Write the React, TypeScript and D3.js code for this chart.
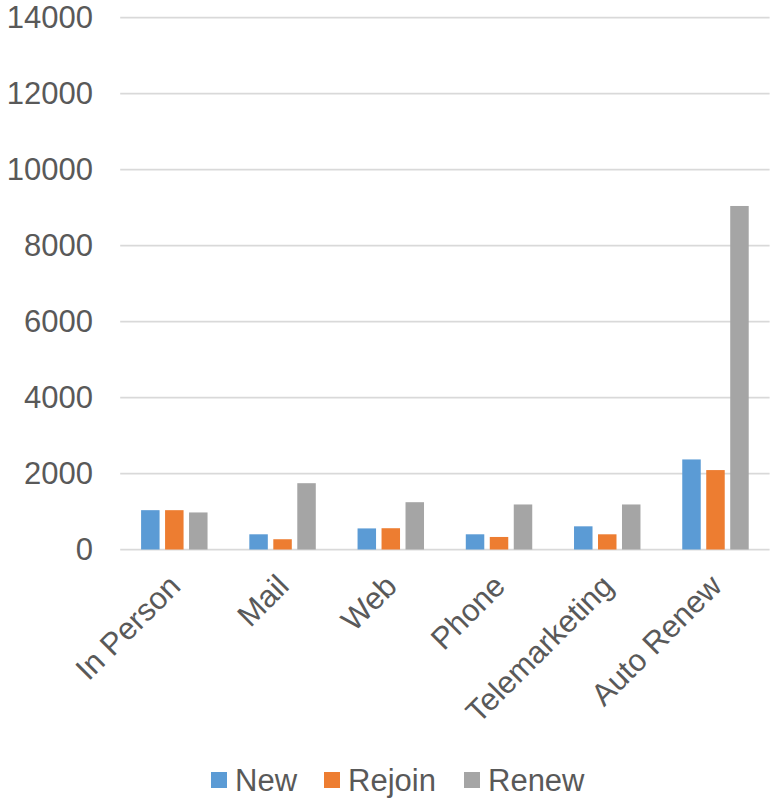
import React from "react";
import * as d3 from "d3";

const categories = ["In Person", "Mail", "Web", "Phone", "Telemarketing", "Auto Renew"];
const seriesNames = ["New", "Rejoin", "Renew"];
const newValues = [1035, 400, 555, 400, 610, 2370];
const rejoinValues = [1035, 270, 560, 330, 400, 2090];
const renewValues = [975, 1745, 1245, 1185, 1185, 9040];
const yTicks = [0, 2000, 4000, 6000, 8000, 10000, 12000, 14000];
const seriesColors = ["#5B9BD5", "#ED7D31", "#A5A5A5"];

const W = 770;
const H = 800;
const FONT = "'Liberation Sans', Arial, sans-serif";
const TEXT = "#595959";
const FS = 31;

export default function App() {
  const values = [newValues, rejoinValues, renewValues];

  const x = d3.scaleBand<string>().domain(categories).range([120.2, 769.6]).padding(0);
  const band = x.bandwidth();
  const groupW = band * 0.614;
  const x1 = d3
    .scaleBand<string>()
    .domain(seriesNames)
    .range([-groupW / 2, groupW / 2])
    .paddingInner(0.229)
    .paddingOuter(0);
  const y = d3.scaleLinear().domain([0, 14000]).range([549.5, 17.5]);

  const legendItems = [
    { name: "New", sq: 211 },
    { name: "Rejoin", sq: 324 },
    { name: "Renew", sq: 464 },
  ];

  return (
    <svg
      width={W}
      height={H}
      style={{ position: "absolute", left: 0, top: 0, background: "#fff" }}
      fontFamily={FONT}
    >
      <rect x={0} y={0} width={W} height={H} fill="#fff" />
      {/* gridlines and y labels */}
      {yTicks.map((t) => (
        <g key={t}>
          <line x1={120.2} x2={769.6} y1={y(t)} y2={y(t)} stroke="#D9D9D9" strokeWidth={1.75} />
          <text x={93} y={y(t)} dy="0.35em" textAnchor="end" fontSize={FS} fill={TEXT}>
            {t}
          </text>
        </g>
      ))}
      {/* bars */}
      {categories.map((c, ci) => {
        const cx = (x(c) as number) + band / 2;
        return (
          <g key={c}>
            {seriesNames.map((s, si) => {
              const v = values[si][ci];
              return (
                <rect
                  key={s}
                  x={cx + (x1(s) as number)}
                  y={y(v)}
                  width={x1.bandwidth()}
                  height={y(0) - y(v)}
                  fill={seriesColors[si]}
                />
              );
            })}
            <text
              transform={`translate(${cx + 8},${588}) rotate(-45)`}
              textAnchor="end"
              fontSize={FS}
              fill={TEXT}
            >
              {c}
            </text>
          </g>
        );
      })}
      {/* legend */}
      {legendItems.map((it, i) => (
        <g key={it.name}>
          <rect x={it.sq} y={772} width={16} height={16} fill={seriesColors[i]} />
          <text x={it.sq + 24} y={780} dy="0.35em" fontSize={FS} fill={TEXT}>
            {it.name}
          </text>
        </g>
      ))}
    </svg>
  );
}
